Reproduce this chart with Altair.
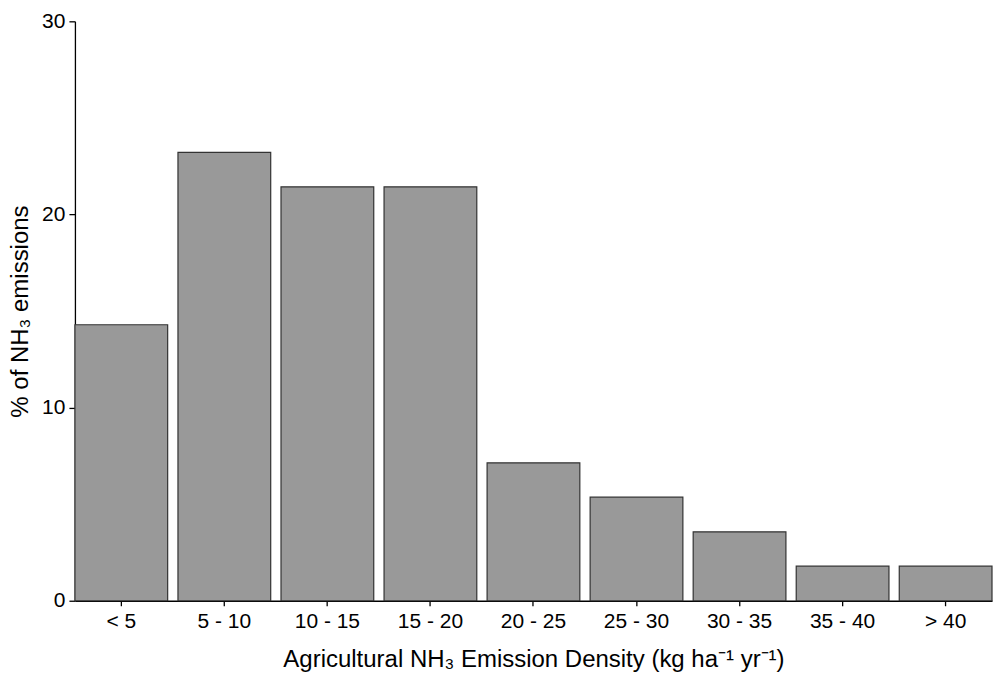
import altair as alt
import pandas as pd

categories = ["< 5", "5 - 10", "10 - 15", "15 - 20", "20 - 25", "25 - 30", "30 - 35", "35 - 40", "> 40"]
percent = [14.29, 23.21, 21.43, 21.43, 7.14, 5.36, 3.57, 1.79, 1.79]
y_ticks = [0, 10, 20, 30]

df = pd.DataFrame({"cat": categories, "pct": percent})

font = "Liberation Sans"
common = dict(domainColor="#000000", tickColor="#000000", domainWidth=1.3, tickWidth=1.3,
              labelFont=font, titleFont=font, labelFontSize=21, titleFontSize=24,
              labelColor="#000000", titleColor="#000000", titleFontWeight="normal")

chart = alt.Chart(df).mark_bar(
    fill="#999999", stroke="#333333", strokeWidth=1.2
).encode(
    x=alt.X("cat:N", sort=categories,
            scale=alt.Scale(paddingInner=0.1, paddingOuter=0),
            axis=alt.Axis(title="Agricultural NH₃ Emission Density (kg ha⁻¹ yr⁻¹)",
                          labelAngle=0, tickSize=5, labelPadding=5, titlePadding=16,
                          **common)),
    y=alt.Y("pct:Q", scale=alt.Scale(domain=[0, 30], nice=False),
            axis=alt.Axis(title="% of NH₃ emissions", values=y_ticks, grid=False,
                          tickSize=6, labelPadding=4, titlePadding=9,
                          **common))
).properties(
    width=918, height=580, background="white",
    padding={"left": 8, "top": 10, "right": 0, "bottom": 5}
).configure_view(
    stroke=None
)

chart.save("out.html", embed_options={"renderer": "svg", "actions": False})
